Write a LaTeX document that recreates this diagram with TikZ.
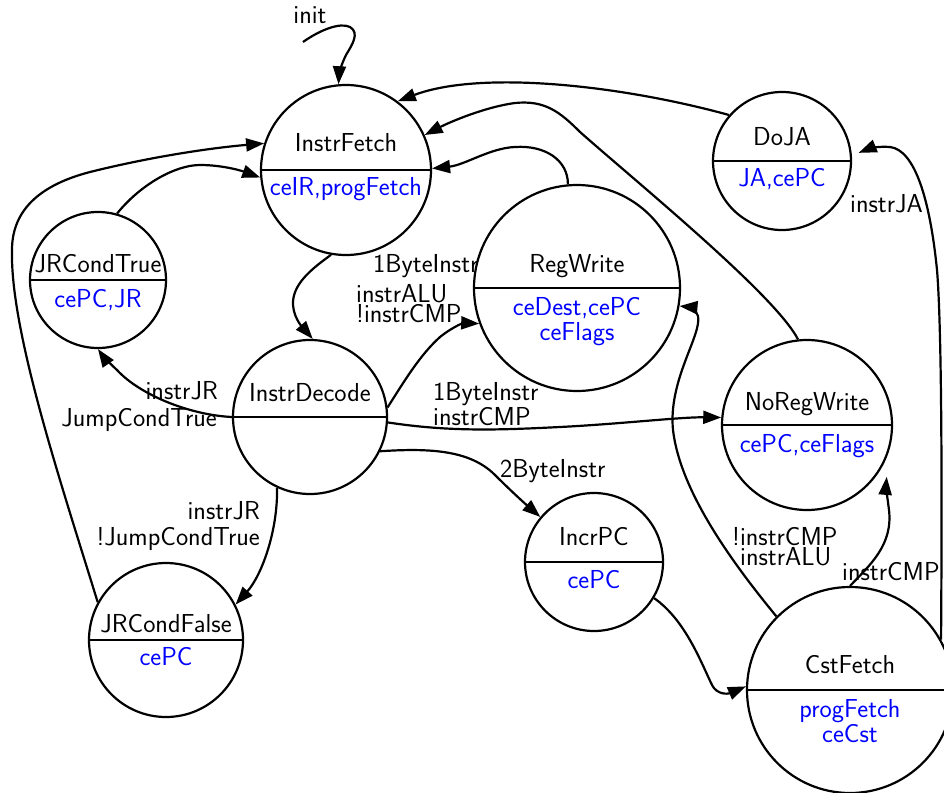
\documentclass[tikz,border=0pt]{standalone}
\usetikzlibrary{arrows.meta}
\definecolor{outblue}{RGB}{0,0,255}
% a Moore state: circle of given radius, split by a horizontal diameter
\newcommand\fsmstate[3]{%
  \node[fsm,minimum size={2*#3pt}] (#1) at (#2) {};
  \draw[split] (#1.west) -- (#1.east);}
\begin{document}
\begin{tikzpicture}[x=1pt,y=-1pt,
  every node/.style={font=\fontsize{26}{26}\selectfont\sffamily},
  fsm/.style={circle,draw,line width=2.2pt,inner sep=0pt},
  split/.style={line width=2.2pt},
  nm/.style={inner sep=0pt,anchor=base},
  act/.style={nm,text=outblue},
  cond/.style={inner sep=0pt},
  edge/.style={line width=2.2pt,-{Triangle[length=18pt,width=13pt]}}]
\useasboundingbox (0,0) rectangle (944,792);
\clip (0,0) rectangle (944,792);

% ---------- states ----------
\fsmstate{InstrFetch}{346,170}{85}
\node[nm]  (InstrFetch-n) at (346,151) {InstrFetch};
\node[act] (InstrFetch-a) at (346,195) {ceIR,progFetch};

\fsmstate{JRCondTrue}{98,280}{68}
\node[nm]  (JRCondTrue-n) at (98,272) {JRCondTrue};
\node[act] (JRCondTrue-a) at (98,307) {cePC,JR};

\fsmstate{RegWrite}{577,288}{103}
\node[nm]  (RegWrite-n)  at (577,272) {RegWrite};
\node[act] (RegWrite-a1) at (577,315) {ceDest,cePC};
\node[act] (RegWrite-a2) at (577,340) {ceFlags};

\fsmstate{InstrDecode}{310,417}{77}
\node[nm]  (InstrDecode-n) at (310,401) {InstrDecode};

\fsmstate{DoJA}{782,161}{69}
\node[nm]  (DoJA-n) at (782,145) {DoJA};
\node[act] (DoJA-a) at (782,186) {JA,cePC};

\fsmstate{NoRegWrite}{807,425}{85}
\node[nm]  (NoRegWrite-n) at (807,410) {NoRegWrite};
\node[act] (NoRegWrite-a) at (807,452) {cePC,ceFlags};

\fsmstate{IncrPC}{594,562}{69}
\node[nm]  (IncrPC-n) at (594,545) {IncrPC};
\node[act] (IncrPC-a) at (594,588) {cePC};

\fsmstate{JRCondFalse}{166,640}{77}
\node[nm]  (JRCondFalse-n) at (166,632) {JRCondFalse};
\node[act] (JRCondFalse-a) at (166,665) {cePC};

\fsmstate{CstFetch}{850,690}{103}
\node[nm]  (CstFetch-n)  at (850,673) {CstFetch};
\node[act] (CstFetch-a1) at (850,717) {progFetch};
\node[act] (CstFetch-a2) at (850,742) {ceCst};

% ---------- transitions ----------
\coordinate (initpt) at (303,42);
\node[nm] (init-l) at (310,24) {init};
\draw[edge] (initpt) .. controls (320,30) and (340,22) .. (350,27)
  .. controls (360,33) and (352,45) .. (346,55)
  .. controls (341,65) and (339,75) .. (InstrFetch.95);

\draw[edge] (DoJA.139) .. controls (620,85) and (480,70) .. (InstrFetch.53);

\draw[edge] (NoRegWrite.96) .. controls (775,295) and (640,185) .. (580,132)
  .. controls (560,112) and (545,100) .. (515,103)
  .. controls (485,107) and (450,122) .. (InstrFetch.24);

\draw[edge] (RegWrite.95) .. controls (568,160) and (545,145) .. (515,147)
  .. controls (490,148) and (465,165) .. (InstrFetch.1);

\draw[edge] (InstrFetch.260) .. controls (310,270) and (292,285) .. (293,305)
  .. controls (294,320) and (305,330) .. (InstrDecode.88);

\draw[edge] (InstrDecode.7) .. controls (405,380) and (420,355) .. (440,337)
  .. controls (455,325) and (465,323) .. (RegWrite.200);
\node[cond,anchor=base west] (c-rw1) at (373,272) {1ByteInstr};
\node[cond,anchor=base west] (c-rw2) at (356,302) {instrALU};
\node[cond,anchor=base west] (c-rw3) at (356,322) {!instrCMP};

\draw[edge] (InstrDecode.-4) .. controls (450,432) and (500,430) .. (560,427)
  .. controls (620,424) and (680,417) .. (NoRegWrite.175);
\node[cond,anchor=base west] (c-nr1) at (433,400) {1ByteInstr};
\node[cond,anchor=base west] (c-nr2) at (433,425) {instrCMP};

\draw[edge] (InstrDecode.-26) .. controls (430,448) and (470,450) .. (495,475)
  .. controls (515,495) and (530,508) .. (IncrPC.140);
\node[cond,anchor=base west] (c-ip) at (500,477) {2ByteInstr};

\draw[edge] (InstrDecode.180) .. controls (190,415) and (140,395) .. (117,370)
  .. controls (106,360) and (100,352) .. (JRCondTrue.270);
\node[cond,anchor=base east] (c-jt1) at (218,399) {instrJR};
\node[cond,anchor=base east] (c-jt2) at (217,426) {JumpCondTrue};

\draw[edge] (InstrDecode.245) .. controls (278,530) and (262,575) .. (JRCondFalse.27);
\node[cond,anchor=base east] (c-jf1) at (260,519) {instrJR};
\node[cond,anchor=base east] (c-jf2) at (260,545) {!JumpCondTrue};

\draw[edge] (JRCondTrue.74) .. controls (140,185) and (175,165) .. (200,165)
  .. controls (225,165) and (245,172) .. (InstrFetch.185);

\draw[edge] (JRCondFalse.151) .. controls (60,480) and (10,330) .. (12,250)
  .. controls (12,210) and (40,185) .. (90,172)
  .. controls (150,157) and (210,148) .. (InstrFetch.162);

\draw[edge] (IncrPC.-31) .. controls (685,620) and (700,660) .. (712,685)
  .. controls (717,695) and (728,694) .. (CstFetch.178);

\draw[edge] (CstFetch.135) .. controls (730,560) and (680,490) .. (673,430)
  .. controls (668,380) and (702,335) .. (698,316)
  .. controls (696,310) and (690,307) .. (RegWrite.-10);
\node[cond,anchor=base west] (c-cr1) at (732,545) {!instrCMP};
\node[cond,anchor=base west] (c-cr2) at (740,565) {instrALU};

\draw[edge] (CstFetch.90) .. controls (870,565) and (893,545) .. (889,510)
  .. controls (887,495) and (886,485) .. ([shift={(-33.7:9pt)}]NoRegWrite.-33.7);
\node[cond,anchor=base west] (c-cn) at (842,580) {instrCMP};

\draw[edge] (CstFetch.29) .. controls (942,500) and (942,330) .. (937,270)
  .. controls (930,200) and (915,150) .. (890,147)
  .. controls (878,146) and (868,149) .. ([shift={(6.7:7pt)}]DoJA.6.7);
\node[cond,anchor=base west] (c-cd) at (850,212) {instrJA};
\end{tikzpicture}
\end{document}
